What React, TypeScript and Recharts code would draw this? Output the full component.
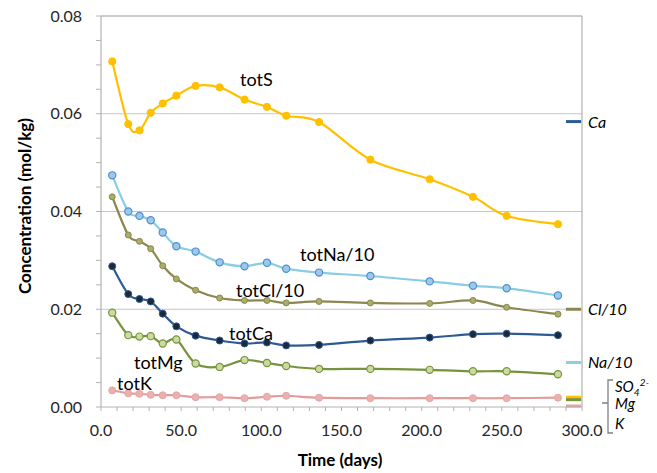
import React from 'react';
import { LineChart, Line, XAxis, YAxis, CartesianGrid, ReferenceLine } from 'recharts';

const days = [7, 17, 24, 31, 38.5, 47, 59, 74, 89.5, 103.5, 115.5, 136, 168, 205, 232, 253, 285];
const totS = [0.0707, 0.0579, 0.0566, 0.0602, 0.0621, 0.0637, 0.0657, 0.0654, 0.0629, 0.0614, 0.0596, 0.0583, 0.0506, 0.0466, 0.0430, 0.0391, 0.0374];
const totNa10 = [0.0474, 0.0400, 0.0391, 0.0382, 0.0357, 0.0329, 0.0318, 0.0296, 0.0288, 0.0295, 0.0283, 0.0275, 0.0268, 0.0257, 0.0248, 0.0243, 0.0228];
const totCl10 = [0.0430, 0.0352, 0.0339, 0.0324, 0.0289, 0.0262, 0.0239, 0.0223, 0.0218, 0.0218, 0.0213, 0.0216, 0.0213, 0.0212, 0.0218, 0.0204, 0.0190];
const totCa = [0.0288, 0.0231, 0.0221, 0.0216, 0.0191, 0.0165, 0.0146, 0.0136, 0.0130, 0.0132, 0.0126, 0.0127, 0.0136, 0.0142, 0.0149, 0.0150, 0.0147];
const totMg = [0.0193, 0.0147, 0.0144, 0.0145, 0.0130, 0.0138, 0.0089, 0.0082, 0.0096, 0.0090, 0.0084, 0.0078, 0.0078, 0.0076, 0.0073, 0.0073, 0.0067];
const totK = [0.0034, 0.0028, 0.0027, 0.0025, 0.0024, 0.0024, 0.0020, 0.0020, 0.0018, 0.0021, 0.0023, 0.0019, 0.0018, 0.0018, 0.0018, 0.0018, 0.0019];

const xTicks = Array.from({ length: 31 }, (_, i) => i * 10);
const yTicks = Array.from({ length: 17 }, (_, i) => i * 0.005);
const yRightTicks = Array.from({ length: 21 }, (_, i) => i * 0.004);
const gridValues = [0.02, 0.04, 0.06, 0.08];

// right-hand key marks: name, level
const keyNames = ['Ca', 'Cl/10', 'Na/10', 'SO4', 'Mg', 'K'];
const keyLevels = [0.0584, 0.0200, 0.0091, 0.0020, 0.0015, 0.0002];
const keyColors = ['#2E5A94', '#8C8650', '#8ECFE6', '#FFC000', '#77933C', '#E6A0A0'];

const data = days.map((d, i) => ({
  day: d,
  totS: totS[i],
  totNa10: totNa10[i],
  totCl10: totCl10[i],
  totCa: totCa[i],
  totMg: totMg[i],
  totK: totK[i],
}));

function excelCurve(context: any) {
  let pts: [number, number][] = [];
  return {
    areaStart() {},
    areaEnd() {},
    lineStart() { pts = []; },
    lineEnd() {
      const n = pts.length;
      if (!n) return;
      context.moveTo(pts[0][0], pts[0][1]);
      for (let i = 0; i < n - 1; i++) {
        const p0 = pts[Math.max(0, i - 1)];
        const p1 = pts[i];
        const p2 = pts[i + 1];
        const p3 = pts[Math.min(n - 1, i + 2)];
        context.bezierCurveTo(
          p1[0] + (p2[0] - p0[0]) / 6,
          p1[1] + (p2[1] - p0[1]) / 6,
          p2[0] - (p3[0] - p1[0]) / 6,
          p2[1] - (p3[1] - p1[1]) / 6,
          p2[0],
          p2[1]
        );
      }
    },
    point(x: number, y: number) { pts.push([+x, +y]); },
  };
}

const FONT = 'Lato, "Open Sans", sans-serif';
const AX = '#B3B3B3';

const lbl = (text: React.ReactNode, x: number, y: number, size: number, extra: React.CSSProperties = {}) => (
  <div
    style={{
      position: 'absolute',
      left: x,
      top: y,
      fontSize: size,
      lineHeight: 1,
      whiteSpace: 'nowrap',
      color: '#000',
      fontFamily: FONT,
      ...extra,
    }}
  >
    {text}
  </div>
);

export default function App() {
  return (
    <div style={{ position: 'absolute', left: 0, top: 0, width: 657, height: 473, background: '#fff', fontFamily: FONT }}>
      <LineChart width={657} height={473} data={data} margin={{ top: 10, right: 75, bottom: 36, left: 41 }}>
        <CartesianGrid horizontal vertical={false} horizontalValues={gridValues} stroke="#C6C6C6" strokeWidth={1.2} />
        <XAxis
          dataKey="day"
          type="number"
          domain={[0, 300]}
          ticks={xTicks}
          interval={0}
          tickFormatter={(v: number) => (v % 50 === 0 ? v.toFixed(1) : '')}
          tickSize={4}
          tickMargin={14}
          height={30}
          axisLine={{ stroke: AX, strokeWidth: 1.2 }}
          tickLine={{ stroke: AX }}
          tick={{ fill: '#262626', fontSize: 16, fontFamily: FONT }}
        />
        <XAxis
          xAxisId="t"
          dataKey="day"
          type="number"
          orientation="top"
          domain={[0, 300]}
          ticks={xTicks}
          interval={0}
          tick={false}
          tickSize={4}
          height={6}
          axisLine={{ stroke: AX, strokeWidth: 1.2 }}
          tickLine={{ stroke: AX }}
        />
        <YAxis
          type="number"
          domain={[0, 0.08]}
          ticks={yTicks}
          interval={0}
          tickFormatter={(v: number) => (Math.round(v * 1000) % 20 === 0 ? v.toFixed(2) : '')}
          tickSize={5}
          tickMargin={14}
          width={60}
          axisLine={{ stroke: AX, strokeWidth: 1.2 }}
          tickLine={{ stroke: AX }}
          tick={{ fill: '#262626', fontSize: 16, fontFamily: FONT }}
        />
        <YAxis
          yAxisId="r"
          orientation="right"
          mirror
          type="number"
          domain={[0, 0.08]}
          ticks={yRightTicks}
          interval={0}
          tick={false}
          tickSize={4}
          axisLine={{ stroke: AX, strokeWidth: 1.2 }}
          tickLine={{ stroke: AX }}
        />
        {keyLevels.map((lv, i) => (
          <ReferenceLine
            key={keyNames[i]}
            segment={[{ x: 290, y: lv }, { x: 299.5, y: lv }]}
            stroke={keyColors[i]}
            strokeWidth={3}
            ifOverflow="visible"
          />
        ))}
        <Line dataKey="totK" type={excelCurve as any} stroke="#E39C9C" strokeWidth={2.2} isAnimationActive={false}
          dot={{ r: 3.5, fill: '#EBB0B0', stroke: '#E6A5A5', strokeWidth: 1 }} />
        <Line dataKey="totMg" type={excelCurve as any} stroke="#77933C" strokeWidth={2.2} isAnimationActive={false}
          dot={{ r: 3.6, fill: '#C9DBA0', stroke: '#77933C', strokeWidth: 1.2 }} />
        <Line dataKey="totCa" type={excelCurve as any} stroke="#2E5A94" strokeWidth={2.2} isAnimationActive={false}
          dot={{ r: 3.5, fill: '#1B2A3A', stroke: '#2E5A94', strokeWidth: 1 }} />
        <Line dataKey="totCl10" type={excelCurve as any} stroke="#8C8650" strokeWidth={2.2} isAnimationActive={false}
          dot={{ r: 3, fill: '#A8AD69', stroke: '#8C8650', strokeWidth: 1 }} />
        <Line dataKey="totNa10" type={excelCurve as any} stroke="#86CDE5" strokeWidth={2.2} isAnimationActive={false}
          dot={{ r: 3.6, fill: '#9CC8EA', stroke: '#4F8FD0', strokeWidth: 1.2 }} />
        <Line dataKey="totS" type={excelCurve as any} stroke="#FFC000" strokeWidth={2.2} isAnimationActive={false}
          dot={{ r: 3.6, fill: '#FFC000', stroke: '#FFC000', strokeWidth: 1 }} />
      </LineChart>

      {/* axis titles */}
      <div style={{ position: 'absolute', left: 340, top: 459, transform: 'translate(-50%,-50%)', fontSize: 17, fontWeight: 700, whiteSpace: 'nowrap', lineHeight: 1 }}>Time (days)</div>
      <div style={{ position: 'absolute', left: 24, top: 206, transform: 'translate(-50%,-50%) rotate(-90deg)', fontSize: 17, fontWeight: 700, whiteSpace: 'nowrap', lineHeight: 1 }}>Concentration (mol/kg)</div>

      {/* series annotations */}
      {lbl('totS', 240, 70, 18)}
      {lbl('totNa/10', 300, 245, 18)}
      {lbl('totCl/10', 236, 281, 18)}
      {lbl('totCa', 229, 324, 18)}
      {lbl('totMg', 134, 353, 18)}
      {lbl('totK', 117, 374, 18)}

      {/* right key labels */}
      {lbl('Ca', 588, 114, 16, { fontStyle: 'italic' })}
      {lbl('Cl/10', 588, 301, 16, { fontStyle: 'italic' })}
      {lbl('Na/10', 588, 354, 16, { fontStyle: 'italic' })}
      {lbl(
        <span>
          SO
          <span style={{ fontSize: 10, position: 'relative', top: 4 }}>4</span>
          <span style={{ fontSize: 10, position: 'relative', top: -6 }}>2-</span>
        </span>,
        615, 379, 15, { fontStyle: 'italic', height: 15 }
      )}
      {lbl('Mg', 615, 396, 15, { fontStyle: 'italic' })}
      {lbl('K', 615, 416, 15, { fontStyle: 'italic' })}
      <svg style={{ position: 'absolute', left: 0, top: 0 }} width={657} height={473}>
        <path d="M613 380 L608 380 L608 433 L613 433 M602 403 L608 403" fill="none" stroke="#808080" strokeWidth={1.3} />
      </svg>
    </div>
  );
}
